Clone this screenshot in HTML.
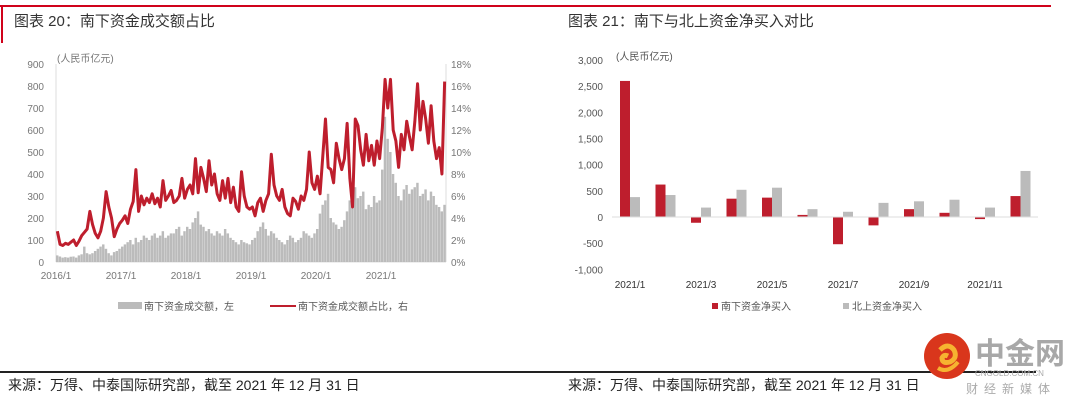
<!DOCTYPE html>
<html><head><meta charset="utf-8">
<style>
body{margin:0;background:#fff;width:1080px;height:406px;overflow:hidden;font-family:"Liberation Sans","Noto Sans CJK SC",sans-serif;}
svg text{font-family:"Liberation Sans","Noto Sans CJK SC",sans-serif;}
</style></head><body>
<svg id="s" width="1080" height="406" xmlns="http://www.w3.org/2000/svg">
<rect x="0" y="5" width="540" height="2" fill="#d0021b"/>
<rect x="1" y="5" width="2" height="38" fill="#d0021b"/>
<rect x="540" y="5" width="511" height="2" fill="#d0021b"/>
<text x="14" y="26" font-size="15" fill="#333" font-family="Liberation Serif,Noto Serif CJK SC,serif">图表 20：南下资金成交额占比</text>
<text x="568" y="26" font-size="15" fill="#333" font-family="Liberation Serif,Noto Serif CJK SC,serif">图表 21：南下与北上资金净买入对比</text>
<g id="left"></g>
<g id="right"></g>
<rect x="0" y="371" width="1036" height="2" fill="#222"/>
<text x="8" y="390" font-size="14" fill="#222" font-family="Liberation Serif,Noto Serif CJK SC,serif">来源：万得、中泰国际研究部，截至 2021 年 12 月 31 日</text>
<text x="568" y="390" font-size="14" fill="#222" font-family="Liberation Serif,Noto Serif CJK SC,serif">来源：万得、中泰国际研究部，截至 2021 年 12 月 31 日</text>
<g>
<circle cx="947" cy="356" r="23" fill="#d9361c"/>
<path d="M940 350 q8 -8 14 0 q4 8 -4 12 q-8 2 -8 -4 q2 -4 6 -2" fill="none" stroke="#f6b330" stroke-width="5"/>
<path d="M938 368 q10 6 20 -6" fill="none" stroke="#f6b330" stroke-width="4"/>
<text x="975" y="364" font-size="30" fill="#a8a8a8" font-weight="bold">中金网</text>
<text x="975" y="376" font-size="8" fill="#aaa">CNGOLD.COM.CN</text>
<text x="966" y="393" font-size="12" fill="#aaa" letter-spacing="6">财经新媒体</text>
</g>
</svg>
<script>
const ratioPct=[2.8,1.6,1.5,1.7,1.6,1.8,2.0,1.5,1.9,2.4,2.7,3.0,4.6,3.4,2.6,2.2,2.8,4.0,6.4,5.0,4.0,2.3,3.0,3.5,
3.8,4.2,3.5,4.8,5.5,8.4,4.6,6.0,5.2,5.8,5.4,6.2,5.3,5.8,5.0,7.4,5.6,6.0,6.5,5.4,5.6,6.0,7.6,5.8,
6.6,7.0,6.2,9.4,6.3,8.6,7.6,6.4,9.2,7.0,8.0,6.2,5.6,7.4,5.8,7.6,5.4,6.8,5.0,4.6,8.2,6.0,5.0,4.8,
5.0,4.2,5.4,5.8,4.6,5.6,6.2,9.8,7.0,6.0,5.6,6.6,5.0,4.4,4.2,5.8,5.5,4.8,6.0,5.6,6.6,10.0,7.2,6.6,
7.8,6.2,9.6,13.0,8.6,8.4,7.2,10.8,9.4,8.4,9.4,12.6,7.6,5.0,13.0,12.4,10.2,8.8,11.6,9.2,10.6,8.8,11.0,9.4,
12.2,16.6,14.0,16.6,12.0,11.0,8.6,11.6,10.2,12.8,11.4,10.2,12.8,16.2,12.0,14.6,13.0,10.8,14.2,11.0,9.4,10.4,8.0,16.4];
const volume=[30,25,20,22,20,24,25,20,30,35,70,40,35,40,50,60,70,80,60,40,30,45,50,60,
70,80,90,100,80,110,90,100,120,110,100,120,130,110,120,140,110,120,130,130,150,160,120,140,
160,150,180,200,230,170,160,140,150,130,120,140,130,120,150,130,110,100,90,80,100,90,85,80,
100,110,140,160,180,150,120,140,130,110,100,90,80,100,120,110,90,100,110,140,130,120,110,130,
150,220,260,280,310,200,180,170,150,160,190,230,280,300,340,290,300,320,240,260,250,300,270,280,
420,660,560,500,400,360,300,280,330,350,310,330,340,360,300,310,330,280,320,300,260,250,230,260];
const leftTicks=[0,100,200,300,400,500,600,700,800,900];
const rightTicks=["0%","2%","4%","6%","8%","10%","12%","14%","16%","18%"];
const yearLabels=["2016/1","2017/1","2018/1","2019/1","2020/1","2021/1"];
const months=["2021/1","2021/2","2021/3","2021/4","2021/5","2021/6","2021/7","2021/8","2021/9","2021/10","2021/11","2021/12"];
const southbound=[2600,620,-110,350,370,40,-520,-160,150,80,-40,400];
const northbound=[380,420,180,520,560,150,100,270,300,330,180,880];
const rTicks=[-1000,-500,0,500,1000,1500,2000,2500,3000];
const NS="http://www.w3.org/2000/svg";
function el(p,t,a,txt){const e=document.createElementNS(NS,t);for(const k in a)e.setAttribute(k,a[k]);if(txt!=null)e.textContent=txt;p.appendChild(e);return e;}
const L=document.getElementById('left');
const x0=56,x1=446,yB=262,yT=64;
const yl=v=>yB-(v/900)*(yB-yT);
const yr=v=>yB-(v/18)*(yB-yT);
const xi=i=>x0+(i+0.5)*(x1-x0)/ratioPct.length;
const xy=y=>x0+y*65;
leftTicks.forEach(v=>{const t=el(L,'text',{x:44,y:yl(v)+4,'font-size':10,fill:'#777','text-anchor':'end'},v);

});
rightTicks.forEach((v,i)=>{const t=el(L,'text',{x:451,y:yr(i*2)+4,'font-size':10,fill:'#777'},v);

});
yearLabels.forEach((v,i)=>{const t=el(L,'text',{x:xy(i),y:279,'font-size':10,fill:'#777','text-anchor':'middle'},v);

});
el(L,'line',{x1:x0,y1:yT,x2:x0,y2:yB,stroke:'#ddd'});
el(L,'line',{x1:x1,y1:yT,x2:x1,y2:yB,stroke:'#ddd'});
el(L,'line',{x1:x0,y1:yB,x2:x1,y2:yB,stroke:'#ddd'});
el(L,'text',{x:57,y:62,'font-size':10,fill:'#777'},'(人民币亿元)');
const bw=(x1-x0)/volume.length;
volume.forEach((v,i)=>{const r=el(L,'rect',{x:xi(i)-bw/2,y:yl(v),width:bw*0.9,height:yB-yl(v),fill:'#bbb'});

});
const pl=el(L,'polyline',{points:ratioPct.map((v,i)=>xi(i)+','+yr(v)).join(' '),fill:'none',stroke:'#be1e2d','stroke-width':3,'stroke-linejoin':'round'});


el(L,'rect',{x:118,y:302,width:24,height:7,fill:'#bbb'});
el(L,'text',{x:144,y:310,'font-size':10,fill:'#555'},'南下资金成交额，左');
el(L,'line',{x1:270,y1:306,x2:296,y2:306,stroke:'#be1e2d','stroke-width':2});
el(L,'text',{x:298,y:310,'font-size':10,fill:'#555'},'南下资金成交额占比，右');
const R=document.getElementById('right');
const rz=217,rs=(217-60)/3000;
const ry=v=>rz-v*rs;
const gx=i=>620+i*35.5;
rTicks.forEach(v=>{const t=el(R,'text',{x:603,y:ry(v)+4,'font-size':10,fill:'#555','text-anchor':'end'},v.toLocaleString('en-US'));

});
el(R,'text',{x:616,y:60,'font-size':10,fill:'#555'},'(人民币亿元)');
southbound.forEach((v,i)=>{const r=el(R,'rect',{x:gx(i),y:Math.min(ry(v),rz),width:10,height:Math.abs(ry(v)-rz),fill:'#be1e2d'});

});
northbound.forEach((v,i)=>{const r=el(R,'rect',{x:gx(i)+10,y:Math.min(ry(v),rz),width:10,height:Math.abs(ry(v)-rz),fill:'#bbb'});

});
el(R,'line',{x1:612,y1:rz,x2:1038,y2:rz,stroke:'#ddd'});
months.forEach((m,i)=>{if(i%2==0){const t=el(R,'text',{x:gx(i)+10,y:288,'font-size':10,fill:'#333','text-anchor':'middle'},m);

}});
el(R,'rect',{x:712,y:303,width:6,height:6,fill:'#be1e2d'});
el(R,'text',{x:721,y:310,'font-size':10,fill:'#555'},'南下资金净买入');
el(R,'rect',{x:843,y:303,width:6,height:6,fill:'#bbb'});
el(R,'text',{x:852,y:310,'font-size':10,fill:'#555'},'北上资金净买入');
</script>
</body></html>
